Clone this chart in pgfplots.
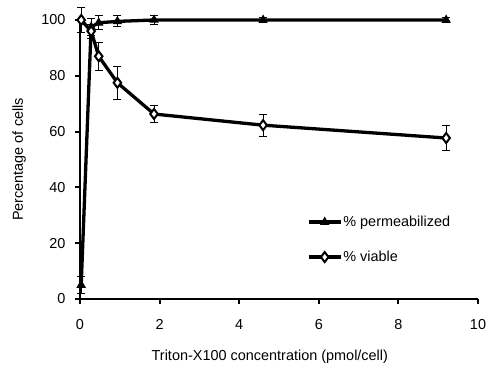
\documentclass[border=0pt]{standalone}
\usepackage{fontspec}
\setmainfont{Liberation Sans}
\usepackage{pgfplots}
\pgfplotsset{compat=1.18}
\usepackage{pgfplotstable}
\pgfplotstableread{
x y e
0.03 5 3
0.28 97.5 3
0.47 99 2.5
0.94 99.5 2
1.86 100 1.5
4.6 100 1
9.2 100 1
}\perm
\pgfplotstableread{
x y e
0.03 100 4.5
0.28 96 2.5
0.47 87 5
0.94 77.5 6
1.86 66.3 3.2
4.6 62.3 4
9.2 57.7 4.5
}\viable
\newcommand{\chartfont}{\fontsize{14.5}{17}\selectfont}
\begin{document}
\begin{tikzpicture}
\path[use as bounding box] (-80bp,-71bp) rectangle (408bp,299bp);
\begin{axis}[
  at={(0,0)}, anchor=south west,
  scale only axis, width=398bp, height=279bp,
  font=\chartfont,
  xmin=0, xmax=10, ymin=0, ymax=100,
  xtick={0,2,...,10}, ytick={0,20,...,100},
  axis x line=bottom, axis y line=left,
  axis line style={-, line width=2.2bp, black},
  tick style={line width=2bp, black},
  major tick length=5bp, tick align=outside,
  clip=false,
  /pgf/number format/assume math mode=true,
  xticklabel style={font=\chartfont, yshift=-12bp},
  yticklabel style={font=\chartfont, xshift=-6bp},
  xlabel={Triton-X100 concentration (pmol/cell)},
  ylabel={Percentage of cells},
  every axis x label/.style={at={(axis description cs:0.477,-0.208)}, anchor=center, font=\chartfont},
  every axis y label/.style={at={(axis description cs:-0.153,0.5)}, anchor=center, rotate=90, font=\chartfont},
  legend style={draw=none, fill=none, at={(axis description cs:0.570,0.213)}, anchor=west,
    inner sep=0pt, row sep=23bp, font=\chartfont,
    nodes={inner xsep=1bp, inner ysep=0bp}},
  legend cell align=left,
  legend image code/.code={\draw[#1, mark repeat=2, mark phase=2] plot coordinates {(0bp,0bp) (16bp,0bp) (32bp,0bp)};},
]
\addplot[black, line width=3.3bp, mark=triangle*, mark size=4.5bp, mark options={solid, line width=1bp, fill=black},
  error bars/.cd, y dir=both, y explicit, error bar style={line width=1bp, black},
  error mark options={rotate=90, mark size=4bp, line width=1bp}]
  table[x=x, y=y, y error=e] {\perm};
\addlegendentry{\% permeabilized}
\addplot[black, line width=3.3bp, mark=diamond*, mark size=5bp, mark options={solid, line width=2bp, fill=white},
  error bars/.cd, y dir=both, y explicit, error bar style={line width=1bp, black},
  error mark options={rotate=90, mark size=4bp, line width=1bp}]
  table[x=x, y=y, y error=e] {\viable};
\addlegendentry{\% viable}
\end{axis}
\end{tikzpicture}
\end{document}
